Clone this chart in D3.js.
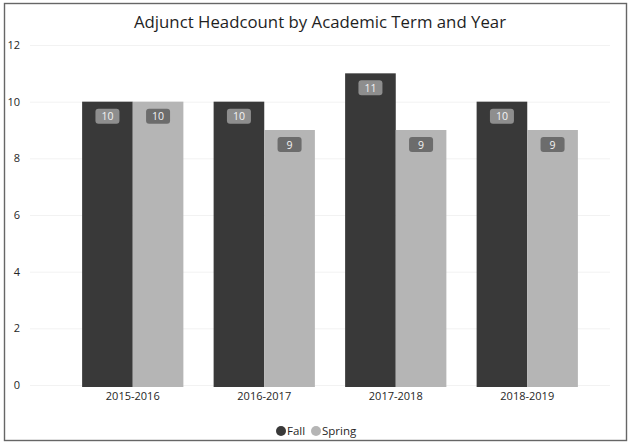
<!DOCTYPE html>
<html>
<head>
<meta charset="utf-8">
<script src="https://cdn.jsdelivr.net/npm/d3@7"></script>
<style>
  html, body { margin: 0; padding: 0; background: #fff; }
  svg { display: block; font-family: "Open Sans", "Noto Sans", sans-serif; }
</style>
</head>
<body>
<svg id="chart" width="635" height="445"></svg>
<script>
// Headcount of adjunct faculty per academic year, split by term
const years = ["2015-2016", "2016-2017", "2017-2018", "2018-2019"];
const terms = ["Fall", "Spring"];
const fallValues = [10, 10, 11, 10];
const springValues = [10, 9, 9, 9];
const yTicks = [0, 2, 4, 6, 8, 10, 12];
const titleText = "Adjunct Headcount by Academic Term and Year";

const termColor = { Fall: "#393939", Spring: "#b5b5b5" };
const badgeColor = { Fall: "#8e8e8e", Spring: "#6c6c6c" };

const svg = d3.select("#chart");

// Outer frame
svg.append("rect")
  .attr("x", 4.5).attr("y", 3.5)
  .attr("width", 622).attr("height", 437)
  .attr("fill", "#fff")
  .attr("stroke", "#666")
  .attr("stroke-width", 1.4);

// Title
svg.append("text")
  .attr("x", 320).attr("y", 28)
  .attr("text-anchor", "middle")
  .attr("font-size", 16.8)
  .attr("fill", "#1f1f1f")
  .text(titleText);

const plot = { left: 67, right: 593, top: 45, bottom: 385 };

const x0 = d3.scaleBand()
  .domain(years)
  .range([plot.left, plot.right])
  .paddingInner(0.23)
  .paddingOuter(0.115);

const x1 = d3.scaleBand()
  .domain(terms)
  .range([0, x0.bandwidth()])
  .padding(0);

const y = d3.scaleLinear()
  .domain([0, 12])
  .range([plot.bottom, plot.top]);

// Faint horizontal gridlines
svg.append("g")
  .selectAll("line")
  .data(yTicks)
  .join("line")
  .attr("x1", 30).attr("x2", 610)
  .attr("y1", d => y(d) + 0.5).attr("y2", d => y(d) + 0.5)
  .attr("stroke", "#f2f2f2")
  .attr("stroke-width", 1);

// Y axis (labels only)
const yAxis = d3.axisLeft(y).tickValues(yTicks).tickSize(0).tickPadding(0);
const yG = svg.append("g")
  .attr("transform", "translate(20,0)")
  .call(yAxis);
yG.select(".domain").remove();
yG.selectAll("text")
  .attr("font-size", 11)
  .attr("fill", "#262626")
  .attr("font-family", "'Open Sans', sans-serif");

// X axis (labels only)
const xAxis = d3.axisBottom(x0).tickSize(0).tickPadding(0);
const xG = svg.append("g")
  .attr("transform", `translate(0,${plot.bottom + 7})`)
  .call(xAxis);
xG.select(".domain").remove();
xG.selectAll("text")
  .attr("font-size", 11)
  .attr("fill", "#262626")
  .attr("font-family", "'Open Sans', sans-serif");

// Bars
const rows = years.map((yr, i) => ({
  year: yr,
  values: [
    { term: "Fall", value: fallValues[i] },
    { term: "Spring", value: springValues[i] }
  ]
}));

const groups = svg.append("g")
  .selectAll("g")
  .data(rows)
  .join("g")
  .attr("transform", d => `translate(${x0(d.year)},0)`);

groups.selectAll("rect")
  .data(d => d.values)
  .join("rect")
  .attr("x", d => x1(d.term))
  .attr("y", d => y(d.value))
  .attr("width", x1.bandwidth())
  .attr("height", d => y(0) - y(d.value) + 2)
  .attr("fill", d => termColor[d.term]);

// Value badges near the top of each bar
const badges = groups.selectAll("g.badge")
  .data(d => d.values)
  .join("g")
  .attr("class", "badge")
  .attr("transform", d => `translate(${x1(d.term) + x1.bandwidth() / 2},${y(d.value) + 15})`);

badges.append("rect")
  .attr("x", -12).attr("y", -8)
  .attr("width", 24).attr("height", 15)
  .attr("rx", 3)
  .attr("fill", d => badgeColor[d.term]);

badges.append("text")
  .attr("text-anchor", "middle")
  .attr("dy", "0.35em")
  .attr("font-size", 10.5)
  .attr("fill", "#f4f4f4")
  .text(d => d.value);

// Legend
const legend = svg.append("g").attr("transform", "translate(0,431)");
const legendItems = [
  { term: "Fall", cx: 281, tx: 287 },
  { term: "Spring", cx: 316, tx: 322 }
];
legend.selectAll("circle")
  .data(legendItems)
  .join("circle")
  .attr("cx", d => d.cx).attr("cy", 0)
  .attr("r", 5)
  .attr("fill", d => termColor[d.term]);
legend.selectAll("text")
  .data(legendItems)
  .join("text")
  .attr("x", d => d.tx).attr("y", 0)
  .attr("dy", "0.35em")
  .attr("font-size", 11.5)
  .attr("fill", "#262626")
  .text(d => d.term);
</script>
</body>
</html>
